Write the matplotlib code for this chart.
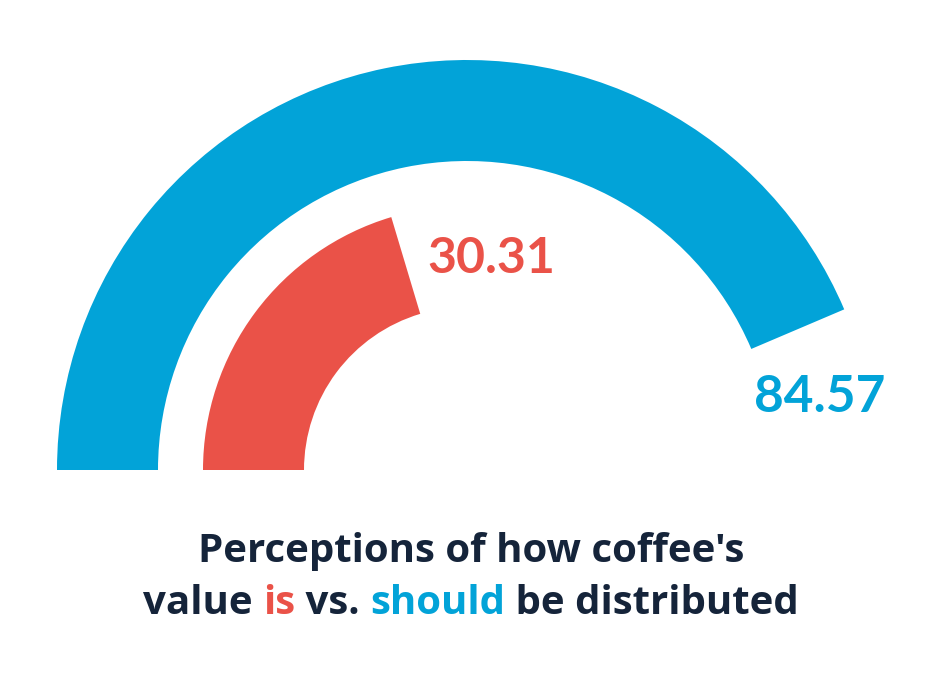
import matplotlib
matplotlib.use("Agg")
import matplotlib.pyplot as plt
from matplotlib.patches import Wedge

# gauge data (outer ring = should, inner ring = is)
labels = ["should", "is"]
values = [84.57, 30.31]
# the drawn arcs are not on a common 0-100 scale, so each ring keeps its own full-scale value
scale_max = [97.0, 74.4]
colors = ["#02A3D8", "#EA5248"]
radii = [410, 264]
ring_width = 101

title_line1 = "Perceptions of how coffee's"
title_line2 = [("value ", "#15243A"), ("is", "#EA5248"), (" vs. ", "#15243A"),
               ("should", "#02A3D8"), (" be distributed", "#15243A")]

W, H = 943, 680
fig = plt.figure(figsize=(W / 100, H / 100), dpi=100)
ax = fig.add_axes([0, 0, 1, 1])
ax.set_xlim(0, W)
ax.set_ylim(0, H)
ax.set_aspect("equal")
ax.axis("off")

cx, cy = 467, H - 470

for v, m, c, r in zip(values, scale_max, colors, radii):
    sweep = v / m * 180
    ax.add_patch(Wedge((cx, cy), r, 180 - sweep, 180, width=ring_width, color=c, lw=0))

font = "Lato"
ax.text(427, H - 273, f"{values[1]:.2f}", color=colors[1], fontsize=36,
        fontweight="bold", family=font, ha="left", va="baseline")
ax.text(754, H - 412, f"{values[0]:.2f}", color=colors[0], fontsize=37,
        fontweight="bold", family=font, ha="left", va="baseline")

tfont = "Open Sans"
tsize = 29
ax.text(471, H - 562, title_line1, color="#15243A", fontsize=tsize, fontweight="bold",
        family=tfont, ha="center", va="baseline")

# second title line: coloured words placed one after another
fig.canvas.draw()
renderer = fig.canvas.get_renderer()
pieces = []
for s, c in title_line2:
    t = ax.text(0, H - 614, s, color=c, fontsize=tsize, fontweight="bold",
                family=tfont, ha="left", va="baseline")
    pieces.append(t)
inv = ax.transData.inverted()
widths = []
for t in pieces:
    bb = t.get_window_extent(renderer)
    x0 = inv.transform((bb.x0, 0))[0]
    x1 = inv.transform((bb.x1, 0))[0]
    widths.append(x1 - x0)
total = sum(widths)
x = 471 - total / 2
for t, w in zip(pieces, widths):
    t.set_x(x)
    x += w

fig.savefig("out.png", dpi=100, facecolor="white")
